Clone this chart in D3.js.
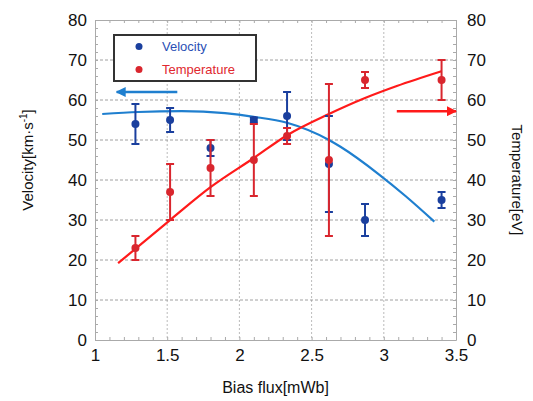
<!DOCTYPE html>
<html>
<head>
<meta charset="utf-8">
<script src="https://cdn.jsdelivr.net/npm/d3@7/dist/d3.min.js"></script>
<style>
  body { margin: 0; background: #fff; }
  svg text { font-family: "Liberation Sans", Arial, sans-serif; }
</style>
</head>
<body>
<div id="chart"></div>
<script>
// bias flux positions of the measurements
var biasFlux = [1.28, 1.52, 1.80, 2.10, 2.33, 2.62, 2.87, 3.40];
// velocity [km/s] and its error
var velocity = [54, 55, 48, 55, 56, 44, 30, 35];
var velocityErr = [5, 3, 2, 0.6, 6, 12, 4, 2];
// temperature [eV] and its error
var temperature = [23, 37, 43, 45, 51, 45, 65, 65];
var temperatureErr = [3, 7, 7, 9, 2, 19, 2, 5];

// fitted curves
var velFitX = [1.05, 1.3, 1.6, 1.9, 2.1, 2.33, 2.62, 2.7, 2.97, 3.15, 3.35];
var velFitY = [56.5, 57.0, 57.2, 56.7, 55.8, 54.3, 50.0, 48.3, 41.3, 36.0, 29.6];
var tempFitX = [1.16, 1.53, 1.8, 2.1, 2.33, 2.62, 2.87, 3.09, 3.4];
var tempFitY = [19.2, 30.3, 38.2, 45.5, 51.2, 56.5, 60.5, 63.5, 67.2];

var xTicks = [1, 1.5, 2, 2.5, 3, 3.5];
var yTicks = [0, 10, 20, 30, 40, 50, 60, 70, 80];

var blueDot = "#1a3f9e", blueLine = "#1f7fcf";
var redDot = "#d9262e", redLine = "#ff1a1a";

var width = 533, height = 401;
var margin = { top: 20, right: 77, bottom: 61, left: 95 };
var w = width - margin.left - margin.right;
var h = height - margin.top - margin.bottom;

var svg = d3.select("#chart").append("svg")
  .attr("width", width)
  .attr("height", height);

var g = svg.append("g")
  .attr("transform", "translate(" + margin.left + "," + margin.top + ")");

var x = d3.scaleLinear().domain([1, 3.5]).range([0, w]);
var yL = d3.scaleLinear().domain([0, 80]).range([h, 0]);
var yR = d3.scaleLinear().domain([0, 80]).range([h, 0]);

//////////////////////////////////////////////////////////////////////////////
// grid

g.selectAll(".gx").data(xTicks.slice(1, -1)).enter().append("line")
  .attr("x1", function(d) { return x(d); })
  .attr("x2", function(d) { return x(d); })
  .attr("y1", 0).attr("y2", h)
  .attr("stroke", "#aaa").attr("stroke-width", 0.8)
  .attr("stroke-dasharray", "2,2");

g.selectAll(".gy").data(yTicks.slice(1, -1)).enter().append("line")
  .attr("x1", 0).attr("x2", w)
  .attr("y1", function(d) { return yL(d); })
  .attr("y2", function(d) { return yL(d); })
  .attr("stroke", "#888").attr("stroke-width", 0.8)
  .attr("stroke-dasharray", "3,2");

// minor ticks, inward
var xMinor = d3.range(1, 3.501, 0.1);
var yMinor = d3.range(0, 80.01, 2);

function styleAxis(sel) {
  sel.select(".domain").attr("stroke", "#aaa");
  sel.selectAll(".tick line").attr("stroke", "#aaa");
  sel.selectAll("text").remove();
}

g.append("g").attr("transform", "translate(0," + h + ")")
  .call(d3.axisBottom(x).tickValues(xMinor).tickSize(-3).tickSizeOuter(0))
  .call(styleAxis);
g.append("g")
  .call(d3.axisTop(x).tickValues(xMinor).tickSize(-3).tickSizeOuter(0))
  .call(styleAxis);
g.append("g")
  .call(d3.axisLeft(yL).tickValues(yMinor).tickSize(-3).tickSizeOuter(0))
  .call(styleAxis);
g.append("g").attr("transform", "translate(" + w + ",0)")
  .call(d3.axisRight(yR).tickValues(yMinor).tickSize(-3).tickSizeOuter(0))
  .call(styleAxis);

// tick labels
function labelAxis(sel) {
  sel.select(".domain").remove();
  sel.selectAll(".tick line").remove();
  sel.selectAll("text").attr("font-size", 17).attr("fill", "#111");
}

g.append("g").attr("transform", "translate(0," + h + ")")
  .call(d3.axisBottom(x).tickValues(xTicks).tickSize(0).tickPadding(9)
    .tickFormat(d3.format("~g")))
  .call(labelAxis);
g.append("g")
  .call(d3.axisLeft(yL).tickValues(yTicks).tickSize(0).tickPadding(8))
  .call(labelAxis);
g.append("g").attr("transform", "translate(" + w + ",0)")
  .call(d3.axisRight(yR).tickValues(yTicks).tickSize(0).tickPadding(11))
  .call(labelAxis);

// axis titles
svg.append("text")
  .attr("x", margin.left + x(2.25)).attr("y", 393)
  .attr("text-anchor", "middle").attr("font-size", 16).attr("fill", "#111")
  .text("Bias flux[mWb]");

var vl = svg.append("text")
  .attr("transform", "translate(33," + (margin.top + yL(45)) + ") rotate(-90)")
  .attr("text-anchor", "middle").attr("font-size", 15).attr("fill", "#111");
vl.append("tspan").text("Velocity[km\u00b7s");
vl.append("tspan").attr("dy", -6).attr("font-size", 10).text("-1");
vl.append("tspan").attr("dy", 6).text("]");

svg.append("text")
  .attr("transform", "translate(512," + (margin.top + yR(40)) + ") rotate(90)")
  .attr("text-anchor", "middle").attr("font-size", 15).attr("fill", "#111")
  .text("Temperature[eV]");

//////////////////////////////////////////////////////////////////////////////
// fit curves

var velLine = d3.line()
  .x(function(d, i) { return x(velFitX[i]); })
  .y(function(d) { return yL(d); })
  .curve(d3.curveMonotoneX);
var tempLine = d3.line()
  .x(function(d, i) { return x(tempFitX[i]); })
  .y(function(d) { return yR(d); })
  .curve(d3.curveMonotoneX);

g.append("path").attr("d", velLine(velFitY))
  .attr("fill", "none").attr("stroke", blueLine).attr("stroke-width", 2.2);
g.append("path").attr("d", tempLine(tempFitY))
  .attr("fill", "none").attr("stroke", redLine).attr("stroke-width", 2.2);

//////////////////////////////////////////////////////////////////////////////
// error bars + points

function drawSeries(vals, errs, yScale, color) {
  var s = g.append("g");
  var items = s.selectAll("g").data(vals).enter().append("g");
  items.append("line")
    .attr("x1", function(d, i) { return x(biasFlux[i]); })
    .attr("x2", function(d, i) { return x(biasFlux[i]); })
    .attr("y1", function(d, i) { return yScale(d + errs[i]); })
    .attr("y2", function(d, i) { return yScale(d - errs[i]); })
    .attr("stroke", color).attr("stroke-width", 2);
  [1, -1].forEach(function(sgn) {
    items.append("line")
      .attr("x1", function(d, i) { return x(biasFlux[i]) - 4; })
      .attr("x2", function(d, i) { return x(biasFlux[i]) + 4; })
      .attr("y1", function(d, i) { return yScale(d + sgn * errs[i]); })
      .attr("y2", function(d, i) { return yScale(d + sgn * errs[i]); })
      .attr("stroke", color).attr("stroke-width", 2);
  });
  items.append("circle")
    .attr("cx", function(d, i) { return x(biasFlux[i]); })
    .attr("cy", function(d) { return yScale(d); })
    .attr("r", 4).attr("fill", color);
}

drawSeries(velocity, velocityErr, yL, blueDot);
drawSeries(temperature, temperatureErr, yR, redDot);

//////////////////////////////////////////////////////////////////////////////
// arrows

svg.append("defs").selectAll("marker").data([["ab", blueLine], ["ar", redLine]])
  .enter().append("marker")
  .attr("id", function(d) { return d[0]; })
  .attr("viewBox", "0 0 10 10").attr("refX", 9).attr("refY", 5)
  .attr("markerWidth", 4).attr("markerHeight", 4).attr("orient", "auto")
  .append("path").attr("d", "M0,0L10,5L0,10z")
  .attr("fill", function(d) { return d[1]; });

g.append("line")
  .attr("x1", x(1.57)).attr("x2", x(1.15))
  .attr("y1", yL(62)).attr("y2", yL(62))
  .attr("stroke", blueLine).attr("stroke-width", 2.5).attr("marker-end", "url(#ab)");
g.append("line")
  .attr("x1", x(3.09)).attr("x2", x(3.5))
  .attr("y1", yR(57.2)).attr("y2", yR(57.2))
  .attr("stroke", redLine).attr("stroke-width", 2.5).attr("marker-end", "url(#ar)");

//////////////////////////////////////////////////////////////////////////////
// legend

var leg = svg.append("g").attr("transform", "translate(114,35)");
leg.append("rect").attr("width", 142).attr("height", 46)
  .attr("fill", "#fff").attr("stroke", "#333").attr("stroke-width", 2);
var legItems = [["Velocity", blueDot, "#2a4fb5"], ["Temperature", redDot, "#e0282e"]];
legItems.forEach(function(d, i) {
  leg.append("circle").attr("cx", 25).attr("cy", 11.5 + i * 23).attr("r", 3.5).attr("fill", d[1]);
  leg.append("text").attr("x", 48).attr("y", 16 + i * 23)
    .attr("font-size", 13).attr("fill", d[2]).text(d[0]);
});
</script>
</body>
</html>
